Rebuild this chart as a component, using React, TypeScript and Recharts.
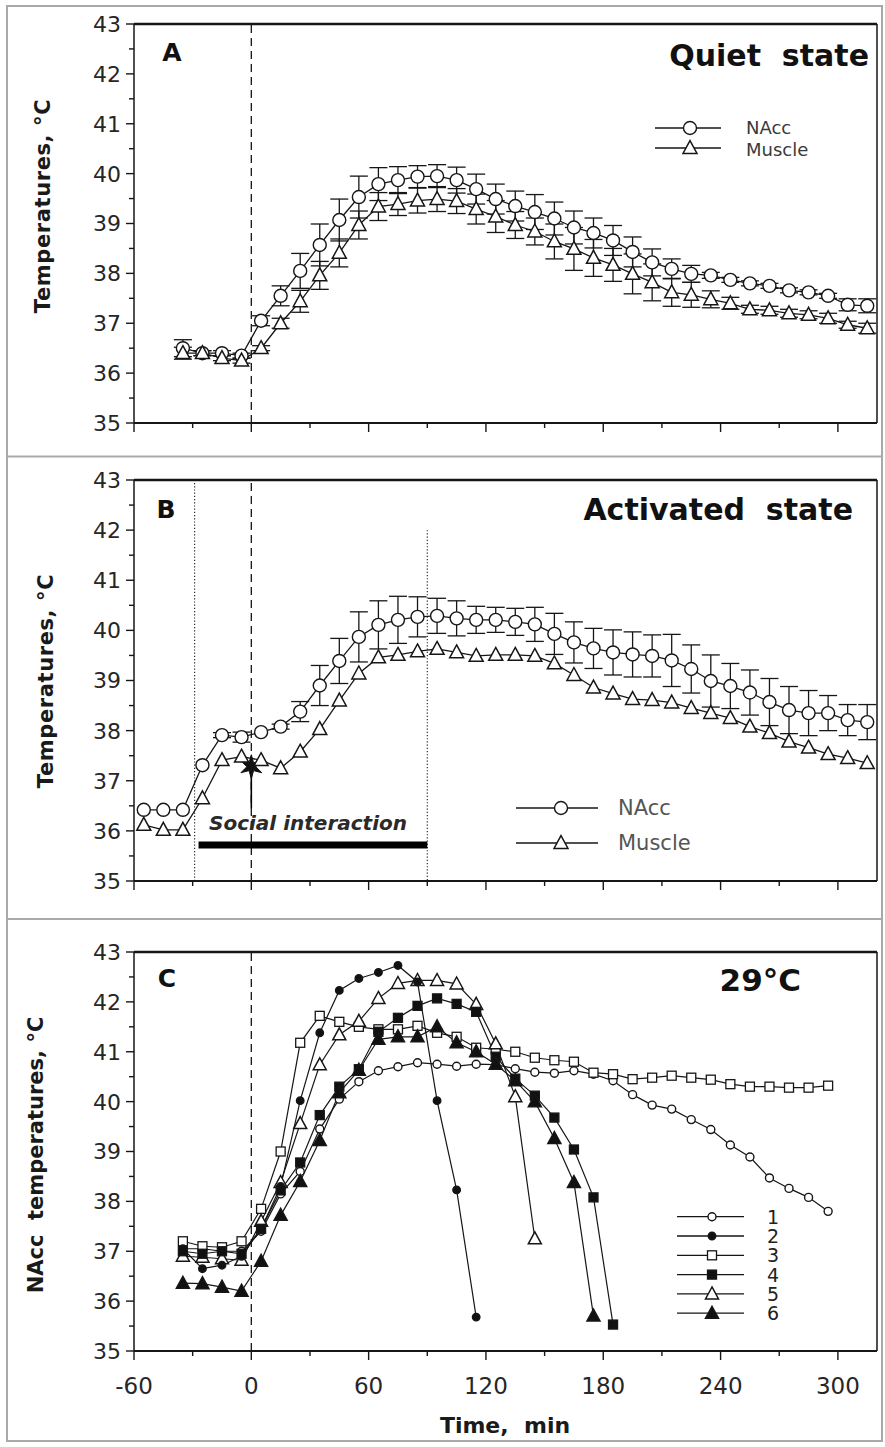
import React from 'react';
import { LineChart, Line, XAxis, YAxis, ReferenceLine, ReferenceDot, ErrorBar } from 'recharts';

const FONT = '"DejaVu Sans", Verdana, sans-serif';
const INK = '#161616';

// ---------- Panel A : Quiet state ----------
const timeA = [-35, -25, -15, -5, 5, 15, 25, 35, 45, 55, 65, 75, 85, 95, 105, 115, 125, 135, 145, 155, 165, 175, 185, 195, 205, 215, 225, 235, 245, 255, 265, 275, 285, 295, 305, 315];
const naccA = [36.5, 36.4, 36.4, 36.35, 37.05, 37.55, 38.05, 38.57, 39.07, 39.53, 39.79, 39.87, 39.94, 39.95, 39.87, 39.69, 39.49, 39.35, 39.23, 39.1, 38.92, 38.81, 38.66, 38.43, 38.22, 38.09, 37.99, 37.96, 37.87, 37.8, 37.75, 37.66, 37.62, 37.55, 37.37, 37.35];
const naccErrA = [0.17, 0.05, 0.05, 0.05, 0.1, 0.2, 0.35, 0.42, 0.42, 0.42, 0.33, 0.27, 0.22, 0.23, 0.26, 0.3, 0.3, 0.3, 0.35, 0.33, 0.33, 0.3, 0.3, 0.3, 0.27, 0.2, 0.17, 0.06, 0.05, 0.05, 0.05, 0.05, 0.05, 0.05, 0.12, 0.14];
const muscleA = [36.4, 36.4, 36.3, 36.25, 36.5, 37.0, 37.44, 37.96, 38.41, 38.97, 39.34, 39.39, 39.46, 39.49, 39.45, 39.29, 39.14, 38.97, 38.84, 38.64, 38.49, 38.31, 38.17, 37.99, 37.82, 37.62, 37.57, 37.48, 37.4, 37.28, 37.26, 37.2, 37.17, 37.1, 36.97, 36.9];
const muscleErrA = [0.12, 0.05, 0.05, 0.05, 0.05, 0.1, 0.22, 0.28, 0.28, 0.28, 0.28, 0.23, 0.25, 0.25, 0.25, 0.3, 0.32, 0.27, 0.27, 0.35, 0.43, 0.37, 0.33, 0.4, 0.37, 0.28, 0.25, 0.17, 0.12, 0.08, 0.08, 0.08, 0.08, 0.1, 0.07, 0.1];

// ---------- Panel B : Activated state ----------
const timeB = [-55, -45, -35, -25, -15, -5, 5, 15, 25, 35, 45, 55, 65, 75, 85, 95, 105, 115, 125, 135, 145, 155, 165, 175, 185, 195, 205, 215, 225, 235, 245, 255, 265, 275, 285, 295, 305, 315];
const naccB = [36.42, 36.42, 36.42, 37.31, 37.91, 37.87, 37.97, 38.08, 38.38, 38.9, 39.39, 39.87, 40.11, 40.21, 40.27, 40.29, 40.24, 40.21, 40.21, 40.17, 40.12, 39.93, 39.76, 39.64, 39.56, 39.52, 39.49, 39.4, 39.23, 38.99, 38.89, 38.76, 38.57, 38.41, 38.35, 38.35, 38.21, 38.17];
const naccErrB = [0, 0, 0, 0, 0.05, 0.1, 0, 0.05, 0.2, 0.4, 0.45, 0.5, 0.48, 0.47, 0.4, 0.35, 0.35, 0.27, 0.25, 0.27, 0.34, 0.41, 0.41, 0.4, 0.45, 0.45, 0.42, 0.52, 0.48, 0.52, 0.45, 0.45, 0.47, 0.47, 0.45, 0.35, 0.31, 0.35];
const muscleB = [36.12, 36.02, 36.02, 36.65, 37.41, 37.48, 37.41, 37.25, 37.58, 38.03, 38.6, 39.14, 39.46, 39.51, 39.58, 39.63, 39.56, 39.49, 39.51, 39.51, 39.49, 39.34, 39.11, 38.86, 38.74, 38.63, 38.61, 38.56, 38.45, 38.35, 38.25, 38.08, 37.95, 37.78, 37.66, 37.53, 37.45, 37.35];

// ---------- Panel C : 29°C, six animals ----------
const timeC = [-35, -25, -15, -5, 5, 15, 25, 35, 45, 55, 65, 75, 85, 95, 105, 115, 125, 135, 145, 155, 165, 175, 185, 195, 205, 215, 225, 235, 245, 255, 265, 275, 285, 295];
const rat1 = [37.05, 37.05, 37.0, 37.0, 37.4, 38.15, 38.6, 39.45, 40.05, 40.4, 40.62, 40.7, 40.78, 40.75, 40.71, 40.75, 40.74, 40.66, 40.59, 40.57, 40.62, 40.55, 40.42, 40.14, 39.93, 39.85, 39.64, 39.44, 39.13, 38.89, 38.47, 38.26, 38.08, 37.8];
const rat2 = [37.05, 36.65, 36.72, 36.9, 37.45, 38.3, 40.02, 41.38, 42.23, 42.47, 42.59, 42.73, 42.4, 40.02, 38.23, 35.68];
const rat3 = [37.2, 37.1, 37.08, 37.2, 37.85, 39.0, 41.18, 41.72, 41.6, 41.5, 41.45, 41.45, 41.52, 41.38, 41.3, 41.08, 41.05, 41.0, 40.88, 40.83, 40.8, 40.58, 40.55, 40.45, 40.48, 40.52, 40.48, 40.44, 40.35, 40.3, 40.3, 40.28, 40.28, 40.32];
const rat4 = [37.0, 36.95, 37.0, 36.95, 37.45, 38.22, 38.78, 39.73, 40.3, 40.65, 41.4, 41.68, 41.92, 42.07, 41.96, 41.8, 40.9, 40.46, 40.12, 39.68, 39.04, 38.08, 35.53];
const rat5 = [36.9, 36.88, 36.85, 36.82, 37.6, 38.38, 39.56, 40.74, 41.34, 41.61, 42.07, 42.37, 42.43, 42.43, 42.36, 41.95, 41.16, 40.1, 37.25];
const rat6 = [36.36, 36.35, 36.28, 36.2, 36.8, 37.72, 38.4, 39.22, 40.18, 40.63, 41.25, 41.3, 41.3, 41.5, 41.18, 41.0, 40.75, 40.42, 40.0, 39.26, 38.38, 35.7];

// ---------- axes ----------
const yTicks = [35, 35.5, 36, 36.5, 37, 37.5, 38, 38.5, 39, 39.5, 40, 40.5, 41, 41.5, 42, 42.5, 43];
const xTicks = [-60, -30, 0, 30, 60, 90, 120, 150, 180, 210, 240, 270, 300];
const xDomain: [number, number] = [-60, 320];
const yDomain: [number, number] = [35, 43];

const rowsA = timeA.map((t, i) => ({ t, nacc: naccA[i], naccErr: naccErrA[i], muscle: muscleA[i], muscleErr: muscleErrA[i] }));
const rowsB = timeB.map((t, i) => ({ t, nacc: naccB[i], naccErr: naccErrB[i], muscle: muscleB[i] }));
const pick = (arr: number[], i: number) => (i < arr.length ? arr[i] : null);
const rowsC = timeC.map((t, i) => ({ t, r1: pick(rat1, i), r2: pick(rat2, i), r3: pick(rat3, i), r4: pick(rat4, i), r5: pick(rat5, i), r6: pick(rat6, i) }));

// ---------- marker shapes ----------
type Kind = 'circle' | 'triangle' | 'square';
function marker(kind: Kind, size: number, fill: string, cx: number, cy: number, key?: any) {
  if (kind === 'circle') return <circle key={key} cx={cx} cy={cy} r={size / 2} fill={fill} stroke={INK} strokeWidth={1.4} />;
  if (kind === 'square') return <rect key={key} x={cx - size / 2} y={cy - size / 2} width={size} height={size} fill={fill} stroke={INK} strokeWidth={1.3} />;
  const h = size * 0.92;
  const d = `M${cx},${cy - h * 0.58} L${cx + size / 2},${cy + h * 0.42} L${cx - size / 2},${cy + h * 0.42} Z`;
  return <path key={key} d={d} fill={fill} stroke={INK} strokeWidth={1.5} strokeLinejoin="miter" />;
}
const dotOf = (kind: Kind, size: number, fill: string) => (p: any) => {
  const k = p.key ?? `d${p.index}`;
  if (p.cx == null || p.cy == null || p.value == null || Number.isNaN(p.cy)) return <g key={k} />;
  return marker(kind, size, fill, p.cx, p.cy, k);
};

const yTick = (p: any) => {
  const { x, y, payload } = p;
  const v = payload.value as number;
  const major = Math.abs(v - Math.round(v)) < 1e-6;
  return (
    <g>
      <line x1={x - (major ? 8 : 5)} x2={x} y1={y} y2={y} stroke={INK} strokeWidth={1.4} />
      {major && (
        <text x={x - 13} y={y} dy="0.36em" textAnchor="end" fontFamily={FONT} fontSize={22} fill="#262626">{v}</text>
      )}
    </g>
  );
};
const xTickFactory = (labels: boolean) => (p: any) => {
  const { x, y, payload } = p;
  const v = payload.value as number;
  const major = v % 60 === 0;
  return (
    <g>
      <line x1={x} x2={x} y1={y} y2={y + (major ? 9 : 5)} stroke={INK} strokeWidth={1.4} />
      {labels && major && (
        <text x={x} y={y + 43} textAnchor="middle" fontFamily={FONT} fontSize={23} fill="#262626">{v}</text>
      )}
    </g>
  );
};
const xTickPlain = xTickFactory(false);
const xTickLabeled = xTickFactory(true);

const star = (p: any) => {
  const { cx, cy } = p;
  const pts: string[] = [];
  for (let i = 0; i < 12; i++) {
    const a = (Math.PI / 6) * i - Math.PI / 2;
    const r = i % 2 === 0 ? 12 : 4.5;
    pts.push(`${cx + r * Math.cos(a)},${cy + r * Math.sin(a)}`);
  }
  return <polygon points={pts.join(' ')} fill="#111" stroke="#111" strokeWidth={1} />;
};

const lineCommon = { type: 'linear' as const, stroke: INK, strokeWidth: 1.3, isAnimationActive: false, activeDot: false as const };

export default function App() {
  const xAxisCommon = {
    type: 'number' as const,
    dataKey: 't',
    domain: xDomain,
    ticks: xTicks,
    interval: 0 as const,
    tickSize: 0,
    tickMargin: 0,
    tickLine: false,
    axisLine: { stroke: INK, strokeWidth: 2 },
  };
  const yAxisCommon = {
    type: 'number' as const,
    domain: yDomain,
    ticks: yTicks,
    interval: 0 as const,
    tickSize: 0,
    tickMargin: 0,
    tickLine: false,
    width: 134,
    axisLine: { stroke: INK, strokeWidth: 1.5 },
    tick: yTick,
  };
  const gray = '#a9a9a9';
  const titleStyle: React.CSSProperties = { whiteSpace: 'pre' };
  return (
    <div style={{ position: 'absolute', left: 0, top: 0, width: 885, height: 1447, background: '#fff', overflow: 'hidden' }}>
      {/* Panel A */}
      <div style={{ position: 'absolute', left: 0, top: 0 }}>
        <LineChart width={885} height={455} data={rowsA} margin={{ top: 24, right: 8, bottom: 0, left: 0 }}>
          <XAxis {...xAxisCommon} height={32} tick={xTickPlain} />
          <YAxis {...yAxisCommon} />
          <ReferenceLine y={43} stroke={INK} strokeWidth={2.6} />
          <ReferenceLine x={320} stroke={INK} strokeWidth={1.5} />
          <ReferenceLine x={0} stroke={INK} strokeWidth={1.3} strokeDasharray="8 5" />
          <Line {...lineCommon} dataKey="nacc" dot={dotOf('circle', 13, '#fff')}>
            <ErrorBar dataKey="naccErr" width={9} stroke={INK} strokeWidth={1.3} direction="y" />
          </Line>
          <Line {...lineCommon} dataKey="muscle" dot={dotOf('triangle', 14, '#fff')}>
            <ErrorBar dataKey="muscleErr" width={9} stroke={INK} strokeWidth={1.3} direction="y" />
          </Line>
        </LineChart>
      </div>

      {/* Panel B */}
      <div style={{ position: 'absolute', left: 0, top: 456 }}>
        <LineChart width={885} height={462} data={rowsB} margin={{ top: 24, right: 8, bottom: 0, left: 0 }}>
          <XAxis {...xAxisCommon} height={37} tick={xTickPlain} />
          <YAxis {...yAxisCommon} />
          <ReferenceLine y={43} stroke={INK} strokeWidth={2.6} />
          <ReferenceLine x={320} stroke={INK} strokeWidth={1.5} />
          <ReferenceLine x={0} stroke={INK} strokeWidth={1.3} strokeDasharray="8 5" />
          <ReferenceLine x={-29} stroke={INK} strokeWidth={1.1} strokeDasharray="1.2 2" />
          <ReferenceLine segment={[{ x: 90, y: 42 }, { x: 90, y: 35 }]} stroke={INK} strokeWidth={1.1} strokeDasharray="1.2 2" />
          <ReferenceLine segment={[{ x: -27, y: 35.72 }, { x: 90, y: 35.72 }]} stroke="#000" strokeWidth={7} />
          <ReferenceLine segment={[{ x: 0, y: 36.45 }, { x: 0, y: 37.2 }]} stroke="#000" strokeWidth={1.6} />
          <Line {...lineCommon} dataKey="nacc" dot={dotOf('circle', 13, '#fff')}>
            <ErrorBar dataKey="naccErr" width={9} stroke={INK} strokeWidth={1.3} direction="y" />
          </Line>
          <Line {...lineCommon} dataKey="muscle" dot={dotOf('triangle', 14, '#fff')} />
          <ReferenceDot x={0} y={37.28} r={10} shape={star} />
        </LineChart>
      </div>

      {/* Panel C */}
      <div style={{ position: 'absolute', left: 0, top: 920 }}>
        <LineChart width={885} height={527} data={rowsC} margin={{ top: 32, right: 8, bottom: 0, left: 0 }}>
          <XAxis {...xAxisCommon} height={96} tick={xTickLabeled} />
          <YAxis {...yAxisCommon} />
          <ReferenceLine y={43} stroke={INK} strokeWidth={2.6} />
          <ReferenceLine x={320} stroke={INK} strokeWidth={1.5} />
          <ReferenceLine x={0} stroke={INK} strokeWidth={1.3} strokeDasharray="8 5" />
          <Line {...lineCommon} dataKey="r1" strokeWidth={1.2} dot={dotOf('circle', 8, '#fff')} />
          <Line {...lineCommon} dataKey="r3" strokeWidth={1.2} dot={dotOf('square', 9, '#fff')} />
          <Line {...lineCommon} dataKey="r5" strokeWidth={1.2} dot={dotOf('triangle', 13, '#fff')} />
          <Line {...lineCommon} dataKey="r2" strokeWidth={1.2} dot={dotOf('circle', 7.5, '#111')} />
          <Line {...lineCommon} dataKey="r4" strokeWidth={1.2} dot={dotOf('square', 9, '#111')} />
          <Line {...lineCommon} dataKey="r6" strokeWidth={1.2} dot={dotOf('triangle', 13, '#111')} />
        </LineChart>
      </div>

      {/* Overlay: frame, labels, titles, legends */}
      <svg width={885} height={1447} style={{ position: 'absolute', left: 0, top: 0, pointerEvents: 'none' }}>
        <g stroke={gray} strokeWidth={2} fill="none">
          <path d="M7,6 H882 V1441 H7 Z" />
          <path d="M7,456.5 H882" />
          <path d="M7,919 H882" />
        </g>

        {/* y axis titles */}
        <text transform="translate(42,206) rotate(-90)" textAnchor="middle" dy="0.36em" fontFamily={FONT} fontWeight="bold" fontSize={21} letterSpacing={0.6} fill="#1a1a1a" style={titleStyle}>Temperatures, °C</text>
        <text transform="translate(45,681) rotate(-90)" textAnchor="middle" dy="0.36em" fontFamily={FONT} fontWeight="bold" fontSize={21} letterSpacing={0.6} fill="#1a1a1a" style={titleStyle}>Temperatures, °C</text>
        <text transform="translate(35,1155) rotate(-90)" textAnchor="middle" dy="0.36em" fontFamily={FONT} fontWeight="bold" fontSize={21} fill="#1a1a1a" style={titleStyle}>NAcc  temperatures, °C</text>
        <text x={505} y={1433} textAnchor="middle" fontFamily={FONT} fontWeight="bold" fontSize={22} fill="#1a1a1a" style={titleStyle}>Time,  min</text>

        {/* panel letters and titles */}
        <text x={172} y={61} textAnchor="middle" fontFamily={FONT} fontWeight="bold" fontSize={25} fill="#111">A</text>
        <text x={166} y={518} textAnchor="middle" fontFamily={FONT} fontWeight="bold" fontSize={25} fill="#111">B</text>
        <text x={167} y={987} textAnchor="middle" fontFamily={FONT} fontWeight="bold" fontSize={25} fill="#111">C</text>
        <text x={869} y={66} textAnchor="end" fontFamily={FONT} fontWeight="bold" fontSize={30} fill="#111" style={titleStyle}>Quiet  state</text>
        <text x={853} y={520} textAnchor="end" fontFamily={FONT} fontWeight="bold" fontSize={30} fill="#111" style={titleStyle}>Activated  state</text>
        <text x={801} y={991} textAnchor="end" fontFamily={FONT} fontWeight="bold" fontSize={31} fill="#111">29°C</text>

        {/* Social interaction label */}
        <text x={209} y={830} fontFamily={FONT} fontWeight="bold" fontStyle="italic" fontSize={20} fill="#2a2a2a">Social interaction</text>

        {/* Legend A */}
        <g>
          <line x1={655} x2={721} y1={128} y2={128} stroke={INK} strokeWidth={1.3} />
          {marker('circle', 13, '#fff', 690, 128)}
          <line x1={655} x2={721} y1={148} y2={148} stroke={INK} strokeWidth={1.3} />
          {marker('triangle', 14, '#fff', 690, 148)}
          <text x={746} y={134} fontFamily={FONT} fontSize={18} fill="#3a3a3a">NAcc</text>
          <text x={746} y={156} fontFamily={FONT} fontSize={18} fill="#3a3a3a">Muscle</text>
        </g>

        {/* Legend B */}
        <g>
          <line x1={516} x2={598} y1={808} y2={808} stroke={INK} strokeWidth={1.3} />
          {marker('circle', 13, '#fff', 561, 808)}
          <line x1={516} x2={598} y1={843} y2={843} stroke={INK} strokeWidth={1.3} />
          {marker('triangle', 14, '#fff', 561, 843)}
          <text x={618} y={815} fontFamily={FONT} fontSize={21} fill="#555">NAcc</text>
          <text x={618} y={850} fontFamily={FONT} fontSize={21} fill="#555">Muscle</text>
        </g>

        {/* Legend C */}
        <g>
          {([
            ['1', 'circle', 8, '#fff'],
            ['2', 'circle', 7.5, '#111'],
            ['3', 'square', 9, '#fff'],
            ['4', 'square', 9, '#111'],
            ['5', 'triangle', 13, '#fff'],
            ['6', 'triangle', 13, '#111'],
          ] as [string, Kind, number, string][]).map(([lab, kind, size, fill], i) => {
            const y = 1216.7 + i * 19.3;
            return (
              <g key={lab}>
                <line x1={677} x2={744} y1={y} y2={y} stroke={INK} strokeWidth={1.3} />
                {marker(kind, size, fill, 712, y)}
                <text x={767} y={y + 7} fontFamily={FONT} fontSize={19} fill="#222">{lab}</text>
              </g>
            );
          })}
        </g>
      </svg>
    </div>
  );
}
